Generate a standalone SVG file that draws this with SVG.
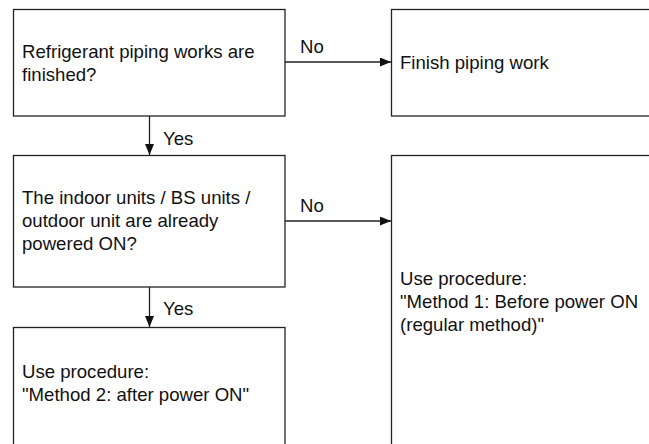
<svg xmlns="http://www.w3.org/2000/svg" width="649" height="444" viewBox="0 0 649 444">
<style>
.box{fill:#fff;stroke:#222;stroke-width:1.3}
.t{font-family:"Liberation Sans",Arial,sans-serif;font-size:18.6px;fill:#111}
.ln{stroke:#222;stroke-width:1.3;fill:none}
</style>
<defs>
<marker id="ah" viewBox="0 0 11 9" refX="11" refY="4.5" markerWidth="11" markerHeight="9" markerUnits="userSpaceOnUse" orient="auto">
<path d="M0,0 L11,4.5 L0,9 Z" fill="#111"/>
</marker>
</defs>
<rect width="649" height="444" fill="#fff"/>
<g id="n1">
<rect class="box" x="13.5" y="9.5" width="271.5" height="106.5"/>
<text class="t" x="22" y="58">Refrigerant piping works are</text>
<text class="t" x="22" y="81">finished?</text>
</g>
<g id="n2">
<rect class="box" x="391.5" y="9.5" width="270" height="106.5"/>
<text class="t" x="400" y="69">Finish piping work</text>
</g>
<g id="n3">
<rect class="box" x="13.5" y="155.5" width="271.5" height="131.5"/>
<text class="t" x="22" y="204">The indoor units / BS units /</text>
<text class="t" x="22" y="227">outdoor unit are already</text>
<text class="t" x="22" y="250">powered ON?</text>
</g>
<g id="n4">
<rect class="box" x="391.5" y="155.5" width="270" height="300"/>
<text class="t" x="400" y="285">Use procedure:</text>
<text class="t" x="400" y="308">"Method 1: Before power ON</text>
<text class="t" x="400" y="331">(regular method)"</text>
</g>
<g id="n5">
<rect class="box" x="13.5" y="327.5" width="271.5" height="130"/>
<text class="t" x="22" y="378">Use procedure:</text>
<text class="t" x="22" y="401">"Method 2: after power ON"</text>
</g>
<g id="connectors">
<line class="ln" x1="285" y1="62" x2="391" y2="62" marker-end="url(#ah)"/>
<text class="t" x="300" y="53">No</text>
<line class="ln" x1="149.5" y1="116" x2="149.5" y2="155" marker-end="url(#ah)"/>
<text class="t" x="163" y="145">Yes</text>
<line class="ln" x1="285" y1="221" x2="391" y2="221" marker-end="url(#ah)"/>
<text class="t" x="300" y="212">No</text>
<line class="ln" x1="149.5" y1="287" x2="149.5" y2="327" marker-end="url(#ah)"/>
<text class="t" x="163" y="315">Yes</text>
</g>
</svg>
